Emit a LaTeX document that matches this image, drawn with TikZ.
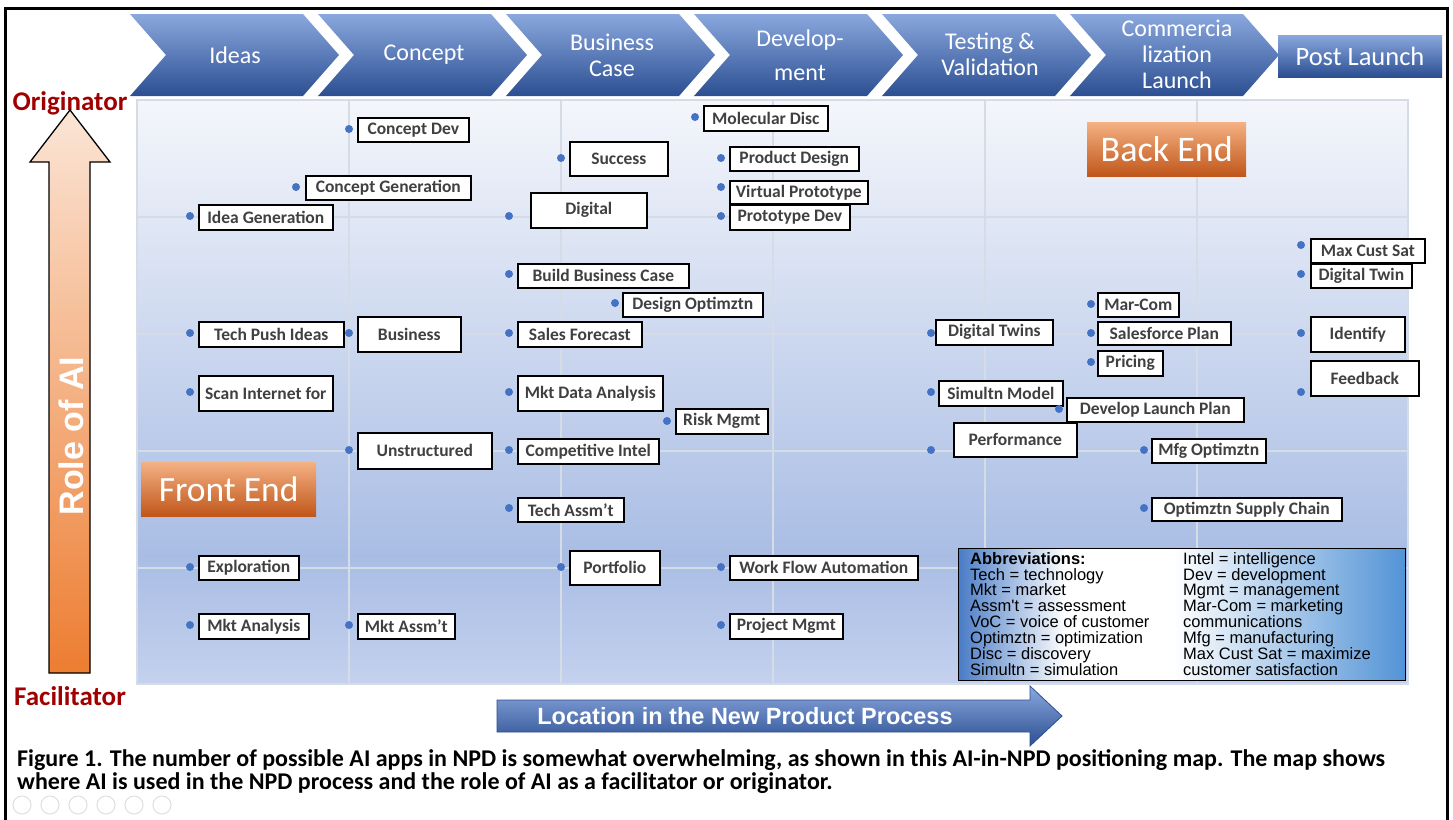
\documentclass[tikz,border=0pt]{standalone}
\usepackage{fontspec}
\setmainfont{Carlito}
\newfontfamily\arialfont{Liberation Sans}
\usetikzlibrary{positioning}
\definecolor{chevtop}{HTML}{8AA8DE}
\definecolor{chevmid}{HTML}{4472C4}
\definecolor{chevbot}{HTML}{2C4F92}
\definecolor{dotblue}{HTML}{4472C4}
\definecolor{labelgray}{HTML}{404040}
\definecolor{gridgray}{HTML}{D6DCE6}
\definecolor{darkred}{HTML}{A00000}
\definecolor{bgtop}{HTML}{F4F6FB}
\definecolor{bgmid}{HTML}{A9BDE4}
\definecolor{bgbot}{HTML}{C4D1EE}
\definecolor{orangetop}{HTML}{F4B183}
\definecolor{orangebot}{HTML}{C0561A}
\definecolor{peach}{HTML}{FBE5D6}
\definecolor{orangearrow}{HTML}{ED7D31}
\definecolor{ableft}{HTML}{4A7CC6}
\definecolor{abright}{HTML}{5293D6}
\pgfdeclareverticalshading{plotbg}{100bp}{color(0bp)=(bgbot); color(25bp)=(bgbot); color(36bp)=(bgmid); color(75bp)=(bgtop); color(100bp)=(bgtop)}
\pgfdeclarehorizontalshading{abbrsh}{100bp}{color(0bp)=(ableft); color(25bp)=(ableft); color(37bp)=(white); color(49bp)=(white); color(75bp)=(abright); color(100bp)=(abright)}
\tikzset{appbox/.style={draw=black, line width=1.6pt, fill=white, text=labelgray, inner sep=0pt, anchor=north west, font=\bfseries\fontsize{17.5}{19}\selectfont}}
\tikzset{appdot/.style={fill=dotblue}}
\tikzset{chevfill/.style={top color=chevtop, middle color=chevmid, bottom color=chevbot}}
\tikzset{chevtext/.style={text=white, align=center, font=\fontsize{24}{26}\selectfont}}
\tikzset{gridline/.style={draw=gridgray, line width=1.4pt}}
\tikzset{endbox/.style={top color=orangetop, bottom color=orangebot, text=white, inner sep=0pt, anchor=north west}}

\begin{document}
\begin{tikzpicture}[x=1pt,y=-1pt]
      \useasboundingbox (0,0) rectangle (1453,819);
      \fill[white] (0,0) rectangle (1453,819);
      % process steps
      \shade[chevfill] (130,14) -- (303,14) -- (339,55) -- (303,96) -- (130,96) -- (166,55) -- cycle;
      \shade[chevfill] (318,14) -- (491,14) -- (527,55) -- (491,96) -- (318,96) -- (354,55) -- cycle;
      \shade[chevfill] (506,14) -- (679,14) -- (715,55) -- (679,96) -- (506,96) -- (542,55) -- cycle;
      \shade[chevfill] (694,14) -- (867,14) -- (903,55) -- (867,96) -- (694,96) -- (730,55) -- cycle;
      \shade[chevfill] (882,14) -- (1055,14) -- (1091,55) -- (1055,96) -- (882,96) -- (918,55) -- cycle;
      \shade[chevfill] (1070,14) -- (1243,14) -- (1279,55) -- (1243,96) -- (1070,96) -- (1106,55) -- cycle;
      \node[chevtext] (sideas) at (235,55) {Ideas};
      \node[chevtext] (sconcept) at (424,55) {Concept};
      \node[chevtext] (sbusiness) at (612,55) {Business\\Case};
      \node[chevtext] (sdevelop) at (800,55) {Develop-\\[8pt]ment};
      \node[chevtext] (stesting) at (990,54) {Testing \&\\Validation};
      \node[chevtext] (scommerce) at (1177,54) {Commercia\\lization\\Launch};
      \node[chevfill, text=white, minimum width=164, minimum height=42, inner sep=0pt, font=\fontsize{26.5}{28}\selectfont] (spost) at (1360,56) {Post Launch};

      % role of AI axis
      \node[text=darkred, font=\bfseries\fontsize{27}{29}\selectfont] (orig) at (70,103) {Originator};
      \node[text=darkred, font=\bfseries\fontsize{27}{29}\selectfont] (facil) at (70,696) {Facilitator};
      \shade[top color=peach, bottom color=orangearrow] (70,110) -- (110,162) -- (90,162) -- (90,673) -- (49,673) -- (49,162) -- (30,162) -- cycle;
      \draw[line width=1.3pt] (70,110) -- (110,162) -- (90,162) -- (90,673) -- (49,673) -- (49,162) -- (30,162) -- cycle;
      \node[rotate=90, text=white, font=\arialfont\bfseries\fontsize{34}{38}\selectfont] (role) at (71,436) {Role of AI};

      % map
      \shade[shading=plotbg] (137,100) rectangle (1408,684);
      \draw[gridline] (137,100) rectangle (1408,684);
      \draw[gridline] (349,100) -- (349,684);
      \draw[gridline] (561,100) -- (561,684);
      \draw[gridline] (773,100) -- (773,684);
      \draw[gridline] (985,100) -- (985,684);
      \draw[gridline] (1197,100) -- (1197,684);
      \draw[gridline] (137,217) -- (1408,217);
      \draw[gridline] (137,334) -- (1408,334);
      \draw[gridline] (137,451) -- (1408,451);
      \draw[gridline] (137,568) -- (1408,568);

      \node[endbox, minimum width=175, minimum height=54, font=\fontsize{35.5}{37}\selectfont] (frontend) at (141,462) {Front End};
      \node[endbox, minimum width=159, minimum height=54, font=\fontsize{36}{38}\selectfont] (backend) at (1087,122) {Back End};

      % apps
      \fill[appdot] (349,129) circle (4);
      \node[appbox, minimum width=111, minimum height=24] (cdev) at (357,117) {Concept Dev};
      \fill[appdot] (296,187) circle (4);
      \node[appbox, minimum width=165, minimum height=24] (cgen) at (305,175) {Concept Generation};
      \fill[appdot] (190,216) circle (4);
      \node[appbox, minimum width=134, minimum height=25] (igen) at (198,204) {Idea Generation};
      \fill[appdot] (561,158) circle (4);
      \node[appbox, minimum width=98, minimum height=34] (success) at (569,141) {Success};
      \fill[appdot] (509,216) circle (4);
      \node[appbox, minimum width=116, minimum height=35] (digital) at (530,192) {Digital};
      \fill[appdot] (695,117) circle (4);
      \node[appbox, minimum width=124, minimum height=25] (moldisc) at (703,105) {Molecular Disc};
      \fill[appdot] (721,158) circle (4);
      \node[appbox, minimum width=129, minimum height=24] (pdesign) at (729,146) {Product Design};
      \fill[appdot] (721,187) circle (4);
      \node[appbox, minimum width=138, minimum height=23] (vproto) at (729,180) {Virtual Prototype};
      \fill[appdot] (721,216) circle (4);
      \node[appbox, minimum width=120, minimum height=25] (protodev) at (729,204) {Prototype Dev};
      \fill[appdot] (509,274) circle (4);
      \node[appbox, minimum width=171, minimum height=24] (bbcase) at (517,263) {Build Business Case};
      \fill[appdot] (615,303) circle (4);
      \node[appbox, minimum width=140, minimum height=24] (dopt) at (622,292) {Design Optimztn};
      \fill[appdot] (509,333) circle (4);
      \node[appbox, minimum width=124, minimum height=25] (sforecast) at (517,321) {Sales Forecast};
      \fill[appdot] (190,333) circle (4);
      \node[appbox, minimum width=145, minimum height=25] (tpush) at (198,321) {Tech Push Ideas};
      \fill[appdot] (349,333) circle (4);
      \node[appbox, minimum width=103, minimum height=35] (business) at (357,316) {Business};
      \fill[appdot] (190,392) circle (4);
      \node[appbox, minimum width=134, minimum height=35] (scan) at (198,375) {Scan Internet for};
      \fill[appdot] (349,450) circle (4);
      \node[appbox, minimum width=134, minimum height=36] (unstruct) at (357,432) {Unstructured};
      \fill[appdot] (509,392) circle (4);
      \node[appbox, minimum width=145, minimum height=35] (mdata) at (517,375) {Mkt Data Analysis};
      \fill[appdot] (667,421) circle (4);
      \node[appbox, minimum width=92, minimum height=25] (risk) at (675,408) {Risk Mgmt};
      \fill[appdot] (509,450) circle (4);
      \node[appbox, minimum width=141, minimum height=25] (compint) at (517,438) {Competitive Intel};
      \fill[appdot] (509,508) circle (4);
      \node[appbox, minimum width=106, minimum height=24] (techassm) at (517,497) {Tech Assm't};
      \fill[appdot] (561,567) circle (4);
      \node[appbox, minimum width=90, minimum height=34] (portfolio) at (569,550) {Portfolio};
      \fill[appdot] (721,567) circle (4);
      \node[appbox, minimum width=188, minimum height=24] (workflow) at (729,555) {Work Flow Automation};
      \fill[appdot] (721,625) circle (4);
      \node[appbox, minimum width=113, minimum height=25] (projmgmt) at (729,613) {Project Mgmt};
      \fill[appdot] (190,567) circle (4);
      \node[appbox, minimum width=100, minimum height=24] (explore) at (198,555) {Exploration};
      \fill[appdot] (190,625) circle (4);
      \node[appbox, minimum width=110, minimum height=25] (manalysis) at (198,613) {Mkt Analysis};
      \fill[appdot] (349,625) circle (4);
      \node[appbox, minimum width=97, minimum height=25] (massm) at (357,613) {Mkt Assm't};
      \fill[appdot] (931,333) circle (4);
      \node[appbox, minimum width=117, minimum height=25] (dtwins) at (935,319) {Digital Twins};
      \fill[appdot] (931,392) circle (4);
      \node[appbox, minimum width=124, minimum height=25] (simmodel) at (938,380) {Simultn Model};
      \fill[appdot] (931,450) circle (4);
      \node[appbox, minimum width=123, minimum height=34] (perform) at (953,422) {Performance};
      \fill[appdot] (1059,409) circle (4);
      \node[appbox, minimum width=177, minimum height=24] (dlaunch) at (1066,397) {Develop Launch Plan};
      \fill[appdot] (1091,304) circle (4);
      \node[appbox, minimum width=81, minimum height=24] (marcom) at (1097,292) {Mar-Com};
      \fill[appdot] (1091,333) circle (4);
      \node[appbox, minimum width=133, minimum height=23] (sfplan) at (1097,321) {Salesforce Plan};
      \fill[appdot] (1091,362) circle (4);
      \node[appbox, minimum width=65, minimum height=25] (pricing) at (1097,350) {Pricing};
      \fill[appdot] (1144,450) circle (4);
      \node[appbox, minimum width=114, minimum height=24] (mfgopt) at (1151,438) {Mfg Optimztn};
      \fill[appdot] (1144,508) circle (4);
      \node[appbox, minimum width=190, minimum height=23] (supply) at (1151,497) {Optimztn Supply Chain};
      \fill[appdot] (1301,245) circle (4);
      \node[appbox, minimum width=114, minimum height=24] (maxsat) at (1310,238) {Max Cust Sat};
      \fill[appdot] (1301,274) circle (4);
      \node[appbox, minimum width=101, minimum height=24] (dtwin) at (1310,263) {Digital Twin};
      \fill[appdot] (1301,333) circle (4);
      \node[appbox, minimum width=94, minimum height=35] (identify) at (1310,316) {Identify};
      \fill[appdot] (1301,392) circle (4);
      \node[appbox, minimum width=108, minimum height=35] (feedback) at (1310,360) {Feedback};

      % abbreviations
      \node[shading=abbrsh, draw=black, line width=1.4pt, minimum width=447, minimum height=132, anchor=north west] (abbr) at (958,548) {};
      \node[anchor=north west, align=left, inner sep=0pt, font=\arialfont\fontsize{16.5}{15.9}\selectfont] (abbleft) at (970,552) {\textbf{Abbreviations:}\\Tech = technology\\Mkt = market\\Assm't = assessment\\VoC = voice of customer\\Optimztn = optimization\\Disc = discovery\\Simultn = simulation};
      \node[anchor=north west, align=left, inner sep=0pt, font=\arialfont\fontsize{16.5}{15.9}\selectfont] (abbright) at (1183,552) {Intel = intelligence\\Dev = development\\Mgmt = management\\Mar-Com = marketing\\communications\\Mfg = manufacturing\\Max Cust Sat = maximize\\customer satisfaction};

      % location axis
      \shade[chevfill] (497,700) -- (1030,700) -- (1030,686) -- (1062,716) -- (1030,746) -- (1030,732) -- (497,732) -- cycle;
      \draw[draw=chevbot, line width=0.8pt] (497,700) -- (1030,700) -- (1030,686) -- (1062,716) -- (1030,746) -- (1030,732) -- (497,732) -- cycle;
      \node[text=white, font=\arialfont\bfseries\fontsize{23.5}{26}\selectfont] (location) at (745,716) {Location in the New Product Process};

      % caption
      \node[anchor=west, inner sep=0pt, font=\bfseries\fontsize{24}{26}\selectfont] (cap1) at (17,760) {Figure 1. The number of possible AI apps in NPD is somewhat overwhelming, as shown in this AI-in-NPD positioning map. The map shows};
      \node[anchor=west, inner sep=0pt, font=\bfseries\fontsize{24}{26}\selectfont] (cap2) at (17,783) {where AI is used in the NPD process and the role of AI as a facilitator or originator.};

      % slide controls
      \draw[gray!25, line width=1pt] (22,805) circle (9);
      \draw[gray!25, line width=1pt] (50,805) circle (9);
      \draw[gray!25, line width=1pt] (78,805) circle (9);
      \draw[gray!25, line width=1pt] (106,805) circle (9);
      \draw[gray!25, line width=1pt] (134,805) circle (9);
      \draw[gray!25, line width=1pt] (162,805) circle (9);

      % frame
      \draw[line width=3pt] (5,8) rectangle (1447,840);
    \end{tikzpicture}
\end{document}
